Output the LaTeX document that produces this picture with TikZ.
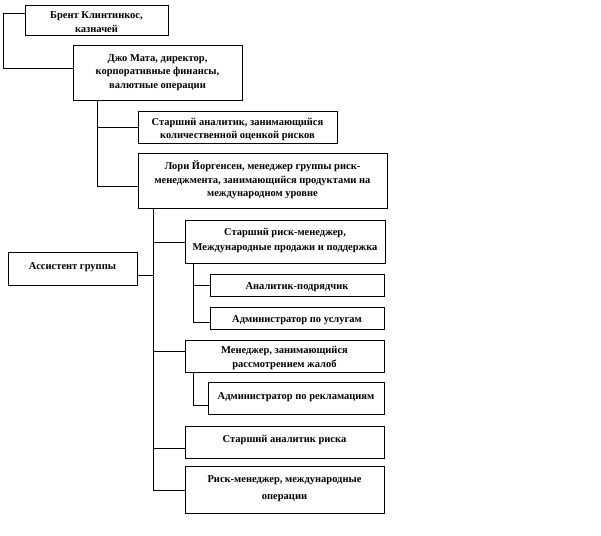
\documentclass[tikz,border=0pt]{standalone}
\usepackage{fontspec}
\setmainfont{Liberation Serif}
\begin{document}
\begin{tikzpicture}[x=1pt,y=-1pt,
  box/.style={draw=black, line width=0.6pt, fill=white, anchor=north west, inner sep=0pt},
  txt/.style={font=\fontsize{10.5}{13.5}\selectfont\bfseries, align=center, inner sep=0pt, yshift=-2pt},
  link/.style={draw=black, line width=0.6pt}]
\useasboundingbox (0,0) rectangle (601,535);
% boxes
\node[box, minimum width=143pt, minimum height=30pt] (brent) at (25,5) {};
\node[box, minimum width=169pt, minimum height=55pt] (joe) at (73,45) {};
\node[box, minimum width=199pt, minimum height=32pt] (sa) at (138,111) {};
\node[box, minimum width=249pt, minimum height=55pt] (lori) at (138,153) {};
\node[box, minimum width=200pt, minimum height=43pt] (srm) at (185,220) {};
\node[box, minimum width=129pt, minimum height=33pt] (asst) at (8,252) {};
\node[box, minimum width=174pt, minimum height=22pt] (cont) at (210,274) {};
\node[box, minimum width=174pt, minimum height=22pt] (serv) at (210,307) {};
\node[box, minimum width=199pt, minimum height=32pt] (compl) at (185,340) {};
\node[box, minimum width=176pt, minimum height=32pt] (recl) at (208,382) {};
\node[box, minimum width=199pt, minimum height=32pt] (risk) at (185,426) {};
\node[box, minimum width=199pt, minimum height=47pt] (intl) at (185,466) {};
% texts
\node[txt] (brent-t) at (96.5,20) {Брент Клинтинкос,\\казначей};
\node[txt] (joe-t) at (157.5,70.5) {Джо Мата, директор,\\корпоративные финансы,\\валютные операции};
\node[txt] (sa-t) at (237.5,127.5) {Старший аналитик, занимающийся\\количественной оценкой рисков};
\node[txt] (lori-t) at (262.5,178) {Лори Йоргенсен, менеджер группы риск-\\менеджмента, занимающийся продуктами на\\международном уровне};
\node[txt, font=\fontsize{10.5}{15}\selectfont\bfseries] (srm-t) at (285,238.5) {Старший риск-менеджер,\\Международные продажи и поддержка};
\node[txt] (asst-t) at (72.5,265.5) {Ассистент группы};
\node[txt] (cont-t) at (297,285) {Аналитик-подрядчик};
\node[txt] (serv-t) at (297,318) {Администратор по услугам};
\node[txt] (compl-t) at (284.5,356) {Менеджер, занимающийся\\рассмотрением жалоб};
\node[txt] (recl-t) at (296,395.5) {Администратор по рекламациям};
\node[txt] (risk-t) at (284.5,437.5) {Старший аналитик риска};
\node[txt, font=\fontsize{10.5}{17}\selectfont\bfseries] (intl-t) at (284.5,487) {Риск-менеджер, международные\\операции};
% connectors
\draw[link] ([yshift=-8pt]brent.north west) -| (3,68) -- (joe.west |- 0,68);
\draw[link] (joe.south west) ++(24,0) coordinate (jb) -- (97,186);
\draw[link] (97,127) -- (sa.west |- 0,127);
\draw[link] (97,186) -- (lori.west |- 0,186);
\coordinate (lb) at (153,208);
\draw[link] (lb) -- (153,490);
\draw[link] (153,242) -- (srm.west |- 0,242);
\draw[link] (asst.east |- 0,275) -- (153,275);
\draw[link] (153,351) -- (compl.west |- 0,351);
\draw[link] (153,448) -- (risk.west |- 0,448);
\draw[link] (153,490) -- (intl.west |- 0,490);
\draw[link] (193,263) -- (193,322);
\draw[link] (193,285) -- (cont.west |- 0,285);
\draw[link] (193,322) -- (serv.west |- 0,322);
\draw[link] (193,372) -- (193,405) -- (recl.west |- 0,405);
\end{tikzpicture}
\end{document}
